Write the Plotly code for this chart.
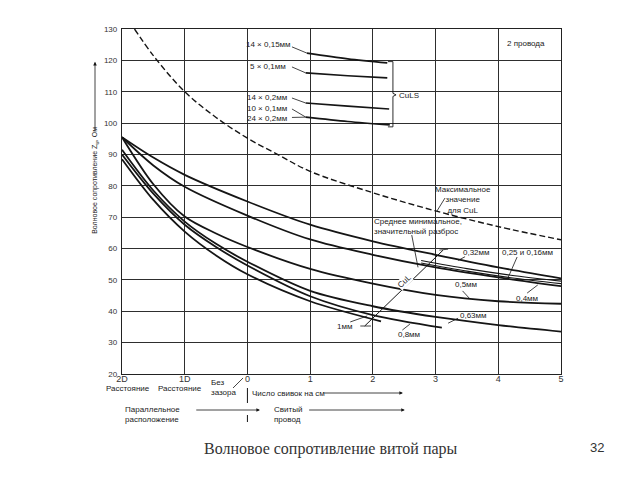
import plotly.graph_objects as go

# ---------------- data ----------------
x_tickvals = [-2, -1, 0, 1, 2, 3, 4, 5]
x_ticktext = ['2D', '1D', '0', '1', '2', '3', '4', '5']
y_tickvals = [20, 30, 40, 50, 60, 70, 80, 90, 100, 110, 120, 130]

# Максимальное значение для CuL (dashed)
max_cul_x = [-1.8, -1.5, -1, -0.5, 0, 0.5, 1, 2, 3, 4, 5]
max_cul_y = [130, 121.5, 110, 101.8, 95.2, 89.8, 84.6, 77.8, 72, 67, 62.8]

d032_x = [-2, -1.5, -1, 0, 1, 2, 3, 4, 5]
d032_y = [95.5, 89, 83.5, 75, 67.6, 62.3, 58, 54, 50.5]
d04_x = [-2, -1.5, -1, 0, 1, 2, 3, 4, 5]
d04_y = [95.5, 86.5, 79.7, 70.5, 62.9, 58, 54, 50.8, 48]
d025_x = [2.77, 3.5, 4.2, 5]
d025_y = [56.2, 53.6, 51.5, 49.6]
d016_x = [2.77, 3.5, 4.2, 5]
d016_y = [55.4, 52.8, 50.7, 48.8]
d05_x = [-2, -1.5, -1, -0.5, 0, 1, 2, 3, 4, 5]
d05_y = [95.5, 80.5, 70.2, 64.8, 60.5, 53.5, 48.8, 45.2, 43.2, 42.4]
d063_x = [-2, -1.5, -1, -0.5, 0, 1, 2, 3, 4, 5]
d063_y = [91.5, 78.5, 68.6, 61.5, 55.8, 46.5, 41.6, 38.2, 35.6, 33.5]
d08_x = [-2, -1.5, -1, -0.5, 0, 1, 2, 3.1]
d08_y = [90, 77.5, 67.6, 60.5, 54.6, 44.8, 38.8, 34.8]
d1_x = [-2, -1.5, -1, -0.5, 0, 1, 2.13]
d1_y = [88.5, 75.5, 65.4, 57.8, 51.8, 43.2, 36.8]

# CuLS (многопроволочные) short lines
culs_14x015_x = [0.95, 1.6, 2.23]
culs_14x015_y = [122.3, 120.5, 119.2]
culs_5x01_x = [0.93, 1.6, 2.23]
culs_5x01_y = [116.0, 115.1, 114.4]
culs_14x02_x = [0.93, 1.6, 2.26]
culs_14x02_y = [106.4, 105.4, 104.5]
culs_24x02_x = [0.93, 1.6, 2.27]
culs_24x02_y = [101.9, 100.5, 99.4]

# CuL diagonal marker line
cul_diag_x = [1.87, 3.12]
cul_diag_y = [35.3, 59.5]

# ---------------- figure ----------------
fig = go.Figure()
INK = '#151515'
FONT = 'Liberation Sans'

fig.add_trace(go.Scatter(x=max_cul_x, y=max_cul_y, mode='lines',
                         line=dict(color=INK, width=1.4, dash='6px,3px', shape='spline'),
                         hoverinfo='skip'))

solid = [(d032_x, d032_y, 1.8), (d04_x, d04_y, 1.8), (d025_x, d025_y, 1.1), (d016_x, d016_y, 1.1),
         (d05_x, d05_y, 1.8), (d063_x, d063_y, 1.8), (d08_x, d08_y, 1.8), (d1_x, d1_y, 1.8),
         (culs_14x015_x, culs_14x015_y, 1.7), (culs_5x01_x, culs_5x01_y, 1.7),
         (culs_14x02_x, culs_14x02_y, 1.7), (culs_24x02_x, culs_24x02_y, 1.7)]
for xs, ys, w in solid:
    fig.add_trace(go.Scatter(x=xs, y=ys, mode='lines',
                             line=dict(color=INK, width=w, shape='spline', smoothing=0.9),
                             hoverinfo='skip'))

fig.add_trace(go.Scatter(x=cul_diag_x, y=cul_diag_y, mode='lines',
                         line=dict(color=INK, width=1), hoverinfo='skip'))

shapes = []
def seg(x0, y0, x1, y1, xref='x', yref='y', w=0.8):
    shapes.append(dict(type='line', x0=x0, y0=y0, x1=x1, y1=y1, xref=xref, yref=yref,
                       line=dict(color=INK, width=w)))

# leaders for CuLS labels
seg(0.71, 124.3, 0.95, 122.3)
seg(0.71, 117.9, 0.93, 116.0)
seg(0.71, 108.0, 0.93, 106.4)
seg(0.71, 104.5, 0.93, 101.9)
seg(0.71, 101.8, 0.93, 101.9)
# bracket
shapes.append(dict(type='path', xref='x', yref='y',
                   path='M 2.24,119.6 L 2.32,119.6 L 2.32,109.5 L 2.37,109.0 L 2.32,108.5 L 2.32,98.8 L 2.24,98.8',
                   line=dict(color=INK, width=0.9)))
# CuL diagonal end ticks
seg(1.80, 35.3, 1.97, 35.3)
seg(3.06, 59.5, 3.20, 59.8)
# leaders in plot
seg(3.15, 76.1, 3.02, 71.9)          # максимальное
seg(2.62, 64.3, 2.72, 54.0)          # среднее минимальное
seg(3.47, 57.4, 3.36, 56.2)          # 0,32
seg(4.30, 57.3, 4.16, 50.9)          # 0,25 и 0,16
seg(3.43, 46.5, 3.55, 43.9)          # 0,5
seg(4.46, 45.8, 4.63, 48.4)          # 0,4
seg(3.36, 37.8, 3.20, 36.2)          # 0,63
seg(2.47, 34.0, 2.59, 35.9)          # 0,8
seg(1.64, 36.6, 1.91, 38.5)          # 1мм

# below-axis decorations (paper y)
def py2p(py):
    return (374 - py) / 345.0
seg(-0.23, py2p(388), -0.07, py2p(378), 'x', 'paper')
seg(0, py2p(388), 0, py2p(403), 'x', 'paper', 1)
seg(0, py2p(415), 0, py2p(422), 'x', 'paper', 1)

annotations = []
def txt(x, y, s, xanchor='left', size=8, xref='x', yref='y', **kw):
    annotations.append(dict(x=x, y=y, text=s, xref=xref, yref=yref, showarrow=False,
                            xanchor=xanchor, yanchor='middle',
                            font=dict(family=FONT, size=size, color='#222'), **kw))

txt(0.72, 125.2, '14 × 0,15мм', 'right')
txt(0.65, 118.2, '5 × 0,1мм', 'right')
txt(0.66, 108.3, '14 × 0,2мм', 'right')
txt(0.66, 104.8, '10 × 0,1мм', 'right')
txt(0.66, 101.6, '24 × 0,2мм', 'right')
txt(2.39, 108.9, 'CuLS')
txt(4.11, 125.5, '2 провода')
txt(3.44, 75.6, 'Максимальное<br>значение<br>для CuL', 'center')
txt(1.99, 67.0, 'Среднее минимальное,<br>значительный разброс', 'left', align='left')
txt(3.41, 58.9, '0,32мм')
txt(4.02, 58.9, '0,25 и 0,16мм')
txt(3.27, 48.4, '0,5мм')
txt(4.25, 44.2, '0,4мм')
txt(3.35, 38.5, '0,63мм')
txt(2.37, 32.7, '0,8мм')
txt(1.39, 35.3, '1мм')
annotations.append(dict(x=2.5, y=49.5, text='CuL', xref='x', yref='y', showarrow=False,
                        textangle=-44, bgcolor='white', borderpad=0,
                        font=dict(family=FONT, size=8, color='#222')))

# below axis texts
txt(-1.91, py2p(388.5), 'Расстояние', 'center', yref='paper')
txt(-1.08, py2p(388.5), 'Расстояние', 'center', yref='paper')
txt(-0.61, py2p(388), 'Без<br>зазора', 'left', yref='paper', align='left')
txt(0.04, py2p(393), 'Число свивок на см', 'left', yref='paper')
txt(-1.99, py2p(414.5), 'Параллельное<br>расположение', 'left', yref='paper', align='left')
txt(0.39, py2p(414.5), 'Свитый<br>провод', 'left', yref='paper', align='left')

def arrow(x1, x0, py):
    annotations.append(dict(x=x1, y=py2p(py), xref='x', yref='paper', ax=x0, ay=0,
                            axref='x', ayref='pixel', text='', showarrow=True,
                            arrowhead=2, arrowsize=0.9, arrowwidth=0.8, arrowcolor=INK))
arrow(2.48, 1.20, 393)
arrow(0.20, -0.84, 410)
arrow(2.51, 0.96, 410)

# y-axis title and arrow
annotations.append(dict(x=-0.0615, y=0.56, xref='paper', yref='paper', showarrow=False,
                        xanchor='center', yanchor='middle',
                        text='Волновое сопротивление Z<sub>w</sub>, Ом', textangle=-90,
                        font=dict(family=FONT, size=7, color='#222')))
annotations.append(dict(x=-0.0615, y=0.905, xref='paper', yref='paper', ax=0, ay=71,
                        text='', showarrow=True, arrowhead=2, arrowsize=0.9,
                        arrowwidth=0.8, arrowcolor=INK))

# caption and page number
annotations.append(dict(x=0.476, y=-0.217, xref='paper', yref='paper', showarrow=False,
                        xanchor='center', yanchor='middle',
                        text='Волновое сопротивление витой пары',
                        font=dict(family='Liberation Serif', size=16, color='#333')))
annotations.append(dict(x=1.082, y=-0.214, xref='paper', yref='paper', showarrow=False,
                        xanchor='center', yanchor='middle',
                        text='32', font=dict(family=FONT, size=13, color='#333')))

axis_common = dict(showgrid=True, gridcolor='#2e2e2e', gridwidth=1.2, showline=True,
                   linecolor='#222', linewidth=1.3, mirror=True, zeroline=False, ticks='',
                   tickfont=dict(family=FONT, size=8, color='#333'), fixedrange=True)

# the page body adds an 8px offset; compensate in the margins
fig.update_layout(
    width=640, height=480,
    margin=dict(l=114, r=87, t=21, b=114),
    paper_bgcolor='white', plot_bgcolor='white', showlegend=False,
    xaxis=dict(range=[-2, 5], tickvals=x_tickvals, ticktext=x_ticktext,
               ticklabelstandoff=-4, **axis_common),
    yaxis=dict(range=[20, 130], tickvals=y_tickvals, ticklabelstandoff=2, **axis_common),
    shapes=shapes, annotations=annotations,
)
fig.update_xaxes(tickfont=dict(size=9))

fig.write_html('out.html')
